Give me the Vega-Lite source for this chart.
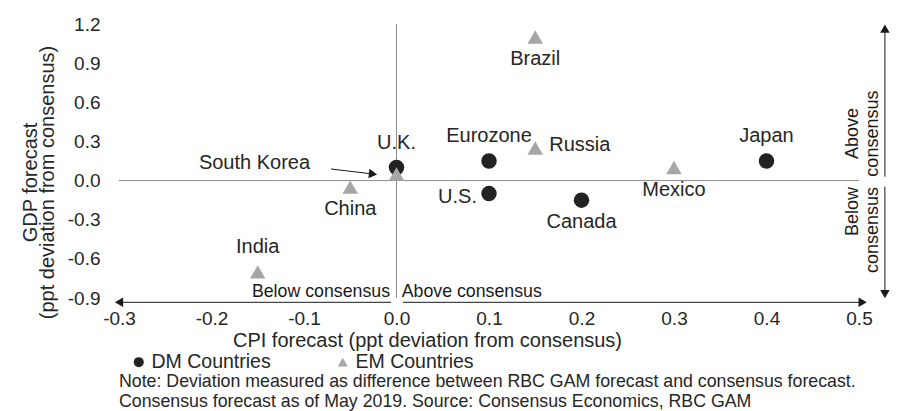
{
  "$schema": "https://vega.github.io/schema/vega-lite/v6.json",
  "width": 740,
  "height": 274,
  "autosize": "none",
  "padding": {"left": 119, "top": 24, "right": 39, "bottom": 113},
  "background": "white",
  "config": {
    "font": "Liberation Sans",
    "view": {"stroke": null},
    "legend": {"padding": 0}
  },
  "datasets": {
    "points": [
      {"country": "U.K.", "group": "DM Countries", "x": 0.0, "y": 0.1, "pos": "above"},
      {"country": "Eurozone", "group": "DM Countries", "x": 0.1, "y": 0.15, "pos": "above"},
      {"country": "U.S.", "group": "DM Countries", "x": 0.1, "y": -0.1, "pos": "left"},
      {"country": "Canada", "group": "DM Countries", "x": 0.2, "y": -0.15, "pos": "below"},
      {"country": "Japan", "group": "DM Countries", "x": 0.4, "y": 0.15, "pos": "above"},
      {"country": "South Korea", "group": "EM Countries", "x": 0.0, "y": 0.05, "pos": "pointer"},
      {"country": "China", "group": "EM Countries", "x": -0.05, "y": -0.05, "pos": "below"},
      {"country": "India", "group": "EM Countries", "x": -0.15, "y": -0.7, "pos": "above"},
      {"country": "Brazil", "group": "EM Countries", "x": 0.15, "y": 1.1, "pos": "below"},
      {"country": "Russia", "group": "EM Countries", "x": 0.15, "y": 0.25, "pos": "right"},
      {"country": "Mexico", "group": "EM Countries", "x": 0.3, "y": 0.1, "pos": "below"}
    ],
    "zerolines": [
      {"x": -0.3, "x2": 0.5, "y": 0, "y2": 0},
      {"x": 0, "x2": 0, "y": -0.9, "y2": 1.2}
    ],
    "arrows": [
      {"x": -0.006, "x2": -0.3, "y": -0.933, "y2": -0.933},
      {"x": 0.007, "x2": 0.504, "y": -0.933, "y2": -0.933},
      {"x": 0.528, "x2": 0.528, "y": 0.03, "y2": 1.165},
      {"x": 0.528, "x2": 0.528, "y": -0.047, "y2": -0.87},
      {"x": -0.0708, "x2": -0.0254, "y": 0.0887, "y2": 0.0504}
    ],
    "heads": [
      {"x": -0.3, "y": -0.933, "dir": "left"},
      {"x": 0.504, "y": -0.933, "dir": "right"},
      {"x": 0.528, "y": 1.165, "dir": "up"},
      {"x": 0.528, "y": -0.87, "dir": "down"},
      {"x": -0.0254, "y": 0.0504, "dir": "pointer"}
    ],
    "captions": [
      {"text": "Below consensus", "x": -0.007, "y": -0.89, "kind": "bl"},
      {"text": "Above consensus", "x": 0.0056, "y": -0.89, "kind": "br"},
      {"text": "Above\nconsensus", "x": 0.4935, "y": 0.36, "kind": "vu"},
      {"text": "Below\nconsensus", "x": 0.4935, "y": -0.049, "kind": "vd"}
    ]
  },
  "title": {
    "text": [
      "Note: Deviation measured as difference between RBC GAM forecast and consensus forecast.",
      "Consensus forecast as of May 2019. Source: Consensus Economics, RBC GAM"
    ],
    "orient": "bottom",
    "anchor": "start",
    "frame": "group",
    "fontSize": 17.75,
    "fontWeight": "normal",
    "font": "Liberation Sans",
    "color": "#262626",
    "lineHeight": 20,
    "offset": 1
  },
  "encoding": {
    "x": {
      "field": "x",
      "type": "quantitative",
      "scale": {"domain": [-0.3, 0.5], "nice": false, "zero": false},
      "axis": {
        "title": "CPI forecast (ppt deviation from consensus)",
        "values": [-0.3, -0.2, -0.1, 0, 0.1, 0.2, 0.3, 0.4, 0.5],
        "labelExpr": "replace(format(datum.value, '.1f'), '\u2212', '-')",
        "ticks": false,
        "domain": false,
        "grid": false,
        "labelFontSize": 19,
        "labelColor": "#262626",
        "labelPadding": 11,
        "labelFlush": false,
        "titleFontSize": 20,
        "titleFontWeight": "normal",
        "titleColor": "#262626",
        "titlePadding": 2,
        "titleX": 308,
        "titleAlign": "center"
      }
    },
    "y": {
      "field": "y",
      "type": "quantitative",
      "scale": {"domain": [-0.9, 1.2], "nice": false, "zero": false},
      "axis": {
        "title": ["GDP forecast", "(ppt deviation from consensus)"],
        "values": [-0.9, -0.6, -0.3, 0, 0.3, 0.6, 0.9, 1.2],
        "labelExpr": "replace(format(datum.value, '.1f'), '\u2212', '-')",
        "ticks": false,
        "domain": false,
        "grid": false,
        "labelFontSize": 19,
        "labelColor": "#262626",
        "labelPadding": 19,
        "labelFlush": false,
        "titleFontSize": 20,
        "titleFontWeight": "normal",
        "titleColor": "#262626",
        "titleLineHeight": 17,
        "titleAngle": 270,
        "titleAlign": "center",
        "titleBaseline": "middle",
        "titleX": -89,
        "titleY": 158
      }
    }
  },
  "layer": [
    {
      "data": {"name": "zerolines"},
      "mark": {"type": "rule", "color": "#8c8c8c", "strokeWidth": 1},
      "encoding": {"x2": {"field": "x2"}, "y2": {"field": "y2"}}
    },
    {
      "data": {"name": "arrows"},
      "mark": {"type": "rule", "color": "#1a1a1a", "strokeWidth": 1},
      "encoding": {"x2": {"field": "x2"}, "y2": {"field": "y2"}}
    },
    {
      "data": {"name": "heads"},
      "transform": [{"filter": "datum.dir === 'left'"}],
      "mark": {"type": "point", "shape": "triangle-left", "filled": true, "color": "#1a1a1a", "opacity": 1, "size": 90},
      "encoding": {}
    },
    {
      "data": {"name": "heads"},
      "transform": [{"filter": "datum.dir === 'right'"}],
      "mark": {"type": "point", "shape": "triangle-right", "filled": true, "color": "#1a1a1a", "opacity": 1, "size": 90},
      "encoding": {}
    },
    {
      "data": {"name": "heads"},
      "transform": [{"filter": "datum.dir === 'up'"}],
      "mark": {"type": "point", "shape": "triangle-up", "filled": true, "color": "#1a1a1a", "opacity": 1, "size": 90},
      "encoding": {}
    },
    {
      "data": {"name": "heads"},
      "transform": [{"filter": "datum.dir === 'down'"}],
      "mark": {"type": "point", "shape": "triangle-down", "filled": true, "color": "#1a1a1a", "opacity": 1, "size": 90},
      "encoding": {}
    },
    {
      "data": {"name": "heads"},
      "transform": [{"filter": "datum.dir === 'pointer'"}],
      "mark": {"type": "point", "shape": "triangle-right", "angle": 6.8, "filled": true, "color": "#1a1a1a", "opacity": 1, "size": 90},
      "encoding": {}
    },
    {
      "data": {"name": "points"},
      "mark": {"type": "point", "filled": true, "opacity": 1, "size": 240},
      "encoding": {
        "shape": {
          "field": "group",
          "type": "nominal",
          "scale": {"domain": ["DM Countries", "EM Countries"], "range": ["circle", "triangle-up"]},
          "legend": {
            "title": null,
            "orient": "none",
            "legendX": 10,
            "legendY": 328,
            "direction": "horizontal",
            "labelFontSize": 19.5,
            "labelColor": "#262626",
            "symbolSize": 100,
            "symbolStrokeWidth": 0,
            "labelOffset": 3,
            "columnPadding": 62
          }
        },
        "color": {
          "field": "group",
          "type": "nominal",
          "scale": {"domain": ["DM Countries", "EM Countries"], "range": ["#222222", "#a6a6a6"]},
          "legend": {
            "title": null,
            "orient": "none",
            "legendX": 10,
            "legendY": 328,
            "direction": "horizontal",
            "labelFontSize": 19.5,
            "labelColor": "#262626",
            "symbolSize": 100,
            "symbolStrokeWidth": 0,
            "labelOffset": 3,
            "columnPadding": 62
          }
        }
      }
    },
    {
      "data": {"name": "points"},
      "transform": [{"filter": "datum.pos === 'above'"}],
      "mark": {"type": "text", "fontSize": 20, "color": "#262626", "baseline": "middle", "align": "center", "dy": -25},
      "encoding": {"text": {"field": "country"}}
    },
    {
      "data": {"name": "points"},
      "transform": [{"filter": "datum.pos === 'below'"}],
      "mark": {"type": "text", "fontSize": 20, "color": "#262626", "baseline": "middle", "align": "center", "dy": 22},
      "encoding": {"text": {"field": "country"}}
    },
    {
      "data": {"name": "points"},
      "transform": [{"filter": "datum.pos === 'right'"}],
      "mark": {"type": "text", "fontSize": 20, "color": "#262626", "baseline": "middle", "align": "left", "dx": 14, "dy": -3},
      "encoding": {"text": {"field": "country"}}
    },
    {
      "data": {"name": "points"},
      "transform": [{"filter": "datum.pos === 'left'"}],
      "mark": {"type": "text", "fontSize": 20, "color": "#262626", "baseline": "middle", "align": "right", "dx": -12, "dy": 3},
      "encoding": {"text": {"field": "country"}}
    },
    {
      "data": {"name": "points"},
      "transform": [{"filter": "datum.pos === 'pointer'"}],
      "mark": {"type": "text", "fontSize": 20, "color": "#262626", "baseline": "middle", "align": "center", "dx": -142, "dy": -11},
      "encoding": {"text": {"field": "country"}}
    },
    {
      "data": {"name": "captions"},
      "transform": [{"filter": "datum.kind === 'bl'"}],
      "mark": {"type": "text", "fontSize": 17.75, "color": "#1a1a1a", "baseline": "alphabetic", "align": "right"},
      "encoding": {"text": {"field": "text"}}
    },
    {
      "data": {"name": "captions"},
      "transform": [{"filter": "datum.kind === 'br'"}],
      "mark": {"type": "text", "fontSize": 17.75, "color": "#1a1a1a", "baseline": "alphabetic", "align": "left"},
      "encoding": {"text": {"field": "text"}}
    },
    {
      "data": {"name": "captions"},
      "transform": [{"filter": "datum.kind === 'vu'"}],
      "mark": {"type": "text", "fontSize": 18, "color": "#1a1a1a", "baseline": "middle", "align": "center", "angle": 270, "lineBreak": "\n", "lineHeight": 20},
      "encoding": {"text": {"field": "text"}}
    },
    {
      "data": {"name": "captions"},
      "transform": [{"filter": "datum.kind === 'vd'"}],
      "mark": {"type": "text", "fontSize": 18, "color": "#1a1a1a", "baseline": "middle", "align": "right", "angle": 270, "lineBreak": "\n", "lineHeight": 20},
      "encoding": {"text": {"field": "text"}}
    }
  ]
}
